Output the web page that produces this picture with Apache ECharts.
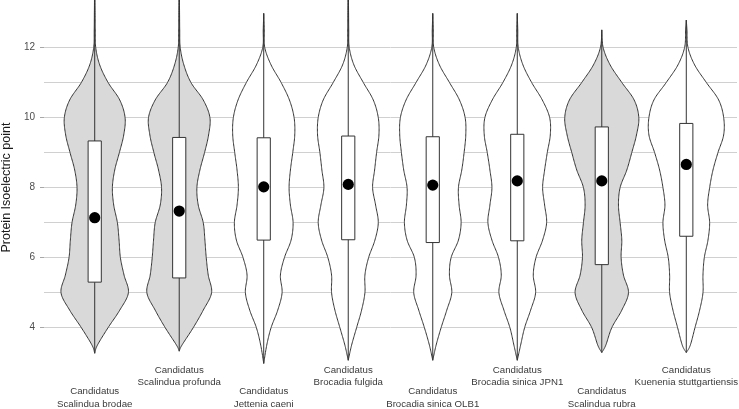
<!DOCTYPE html>
<html>
<head>
<meta charset="utf-8">
<script src="https://cdn.jsdelivr.net/npm/echarts@6/dist/echarts.min.js"></script>
<style>html,body{margin:0;padding:0;background:#fff}#c{width:739px;height:409px}</style>
</head>
<body>
<div id="c"></div>
<script>
// ---- data ----
const categories = [
  'Candidatus\nScalindua brodae',
  'Candidatus\nScalindua profunda',
  'Candidatus\nJettenia caeni',
  'Candidatus\nBrocadia fulgida',
  'Candidatus\nBrocadia sinica OLB1',
  'Candidatus\nBrocadia sinica JPN1',
  'Candidatus\nScalindua rubra',
  'Candidatus\nKuenenia stuttgartiensis'
];
const genus = ['Scalindua','Scalindua','Jettenia','Brocadia','Brocadia','Brocadia','Scalindua','Kuenenia'];
const yTicks = [4, 6, 8, 10, 12];
// kernel density profile (relative), sampled at these pI values
const densityY = [3.5,4,4.5,5,5.5,6,6.5,7,7.5,8,8.5,9,9.5,10,10.5,11,11.5,12,12.5,13];
const density1 = [8,40,75,101,88,77,73,68,57,53,60,74,87,91,75,40,15,3,1.5,1];
const density2 = [8,42,72,97,87,81,77,72,57,53,62,76,88,92,72,35,14,3,1.5,1];
const density3 = [9,22,42,55,50,62,82,88,80,76,80,87,93,91,77,52,22,3,1.5,null];
const density4 = [10,25,40,50,50,61,80,90,82,73,79,85,92,90,75,45,17,3,1.5,1];
const density5 = [10,25,42,57,50,55,77,85,79,77,87,94,99,97,80,50,20,3,1.5,null];
const density6 = [10,22,40,55,48,56,76,88,82,76,82,90,99,97,75,43,17,3,1.5,null];
const density7 = [12,30,60,80,65,58,60,55,50,55,75,90,104,111,97,60,25,4,null,null];
const density8 = [12,26,40,50,50,54,65,70,64,70,80,95,112,112,97,60,25,5,2,null];
const densities = [density1,density2,density3,density4,density5,density6,density7,density8];
const pIMin = [3.27,3.33,2.98,3.07,3.07,3.07,3.29,3.29];
const pIMax = [14,14,12.97,14,12.97,12.97,12.5,12.78];
const q1 = [5.30,5.42,6.50,6.51,6.43,6.48,5.80,6.61];
const q3 = [9.33,9.43,9.42,9.47,9.45,9.52,9.73,9.83];
const centre = [7.14,7.33,8.02,8.09,8.07,8.19,8.19,8.66];

// ---- rendering ----
const FONT = 'Liberation Sans';
const maxDensity = 114;
const violinHalf = 0.45;   // half of violin width in axis units
const boxHalf = 0.078;

function profile(i) {
  const pts = [[pIMin[i], 0]];
  densities[i].forEach((d, k) => {
    const y = densityY[k];
    if (d != null && y > pIMin[i] && y < pIMax[i]) pts.push([y, d]);
  });
  pts.push([pIMax[i], 0]);
  // Catmull-Rom smoothing between sampled points
  const out = [];
  const n = pts.length;
  for (let k = 0; k < n - 1; k++) {
    const p0 = pts[Math.max(k - 1, 0)], p1 = pts[k], p2 = pts[k + 1], p3 = pts[Math.min(k + 2, n - 1)];
    const steps = 14;
    for (let s = 0; s < steps; s++) {
      const t = s / steps, t2 = t * t, t3 = t2 * t;
      const f = (a, b, c, d) => 0.5 * ((2 * b) + (-a + c) * t + (2 * a - 5 * b + 4 * c - d) * t2 + (-a + 3 * b - 3 * c + d) * t3);
      out.push([f(p0[0], p1[0], p2[0], p3[0]), Math.max(0, f(p0[1], p1[1], p2[1], p3[1]))]);
    }
  }
  out.push(pts[n - 1]);
  return out;
}

function renderItem(params, api) {
  const i = params.dataIndex;
  const cx = api.value(0);
  const S = violinHalf / maxDensity;
  const prof = profile(i);
  const right = prof.map(p => api.coord([cx + p[1] * S, p[0]]));
  const left = prof.slice().reverse().map(p => api.coord([cx - p[1] * S, p[0]]));
  const pts = right.concat(left);
  const fill = genus[i] === 'Scalindua' ? '#d9d9d9' : '#ffffff';
  const bot = api.coord([cx, pIMin[i]]), top = api.coord([cx, pIMax[i]]);
  const bl = api.coord([cx - boxHalf, q3[i]]), br = api.coord([cx + boxHalf, q1[i]]);
  const c = api.coord([cx, centre[i]]);
  return {
    type: 'group',
    children: [
      { type: 'polygon', shape: { points: pts }, style: { fill: fill, stroke: '#333333', lineWidth: 1 } },
      { type: 'line', shape: { x1: bot[0], y1: bot[1], x2: top[0], y2: top[1] }, style: { stroke: '#333333', lineWidth: 1 } },
      { type: 'rect', shape: { x: bl[0], y: bl[1], width: br[0] - bl[0], height: br[1] - bl[1] }, style: { fill: '#ffffff', stroke: '#333333', lineWidth: 1 } },
      { type: 'circle', shape: { cx: c[0], cy: c[1], r: 5.6 }, style: { fill: '#000000' } }
    ]
  };
}

const chart = echarts.init(document.getElementById('c'), null, { renderer: 'canvas' });
const xLabelBase = {
  type: 'value', min: 0.4, max: 8.6, position: 'bottom',
  axisLine: { show: false }, axisTick: { show: false }, splitLine: { show: false }
};
const xLabelStyle = {
  fontFamily: FONT, fontSize: 9.7, color: '#3a3a3a', lineHeight: 12.5, align: 'center',
  formatter: v => categories[Math.round(v) - 1]
};
chart.setOption({
  animation: false,
  grid: { left: 44, right: 2, top: 47.4, bottom: 81.3, outerBoundsMode: 'none', containLabel: false },
  xAxis: [
    Object.assign({}, xLabelBase, { axisLabel: Object.assign({}, xLabelStyle, { customValues: [1, 3, 5, 7], margin: 57.5 }) }),
    Object.assign({}, xLabelBase, { axisLabel: Object.assign({}, xLabelStyle, { customValues: [2, 4, 6, 8], margin: 36 }) })
  ],
  yAxis: [
    {
      type: 'value', min: 4, max: 12, interval: 1, position: 'left',
      axisLine: { show: false }, axisTick: { show: false }, axisLabel: { show: false },
      splitLine: { show: true, lineStyle: { color: '#d0d0d0', width: 1 } }
    },
    {
      type: 'value', min: 4, max: 12, interval: 2, position: 'left', offset: 0,
      axisLine: { show: false },
      axisTick: { show: true, length: 4, lineStyle: { color: '#a8a8a8', width: 1 } },
      axisLabel: { show: true, margin: 9, fontFamily: FONT, fontSize: 10, color: '#4d4d4d',
        customValues: yTicks, formatter: v => String(v) },
      splitLine: { show: false },
      name: 'Protein Isoelectric point', nameLocation: 'middle', nameGap: 31,
      nameTextStyle: { fontFamily: FONT, fontSize: 12.5, color: '#1a1a1a' }
    }
  ],
  series: [{
    type: 'custom',
    xAxisIndex: 0, yAxisIndex: 0,
    clip: false,
    renderItem: renderItem,
    data: categories.map((c, i) => [i + 1, centre[i]])
  }]
});
</script>
</body>
</html>
